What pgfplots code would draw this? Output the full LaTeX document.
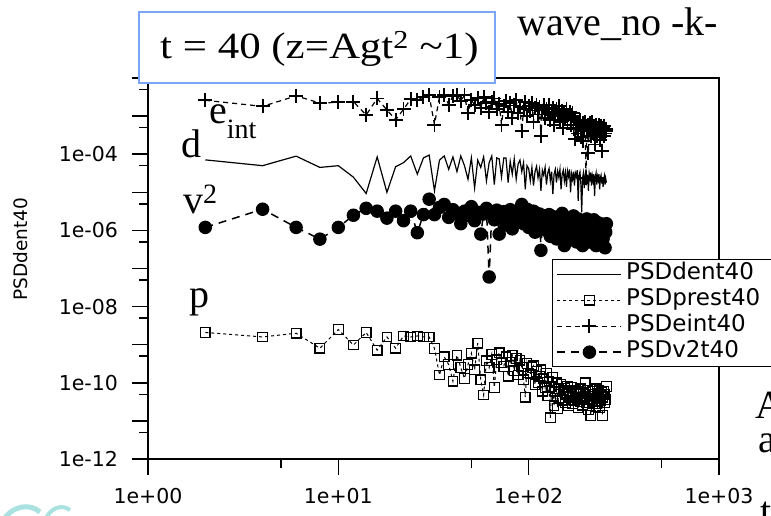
\documentclass[border=0pt]{standalone}
\usepackage{pgfplots}
\pgfplotsset{compat=1.18}
\usepackage{pgfplotstable}
\usepackage{fontspec}
\setmainfont{Liberation Serif}
\newfontfamily\dv{DejaVu Sans}
\definecolor{boxblue}{RGB}{125,165,245}
\definecolor{blob}{RGB}{170,225,225}

\pgfplotstableread{
x dent prest eint v2
2 7.1e-5 2.1e-9 2.6e-3 1.2e-6
4 5.0e-5 1.6e-9 1.8e-3 3.6e-6
6 8.9e-5 2.0e-9 3.4e-3 1.2e-6
8 4.5e-5 8.1e-10 2.2e-3 5.9e-7
10 5.0e-5 2.5e-9 2.3e-3 1.2e-6
12 2.5e-5 9.8e-10 2.4e-3 2.5e-6
14 9.3e-6 2.1e-9 1.07e-3 3.8e-6
16 8.5e-5 7.2e-10 2.9e-3 3.2e-6
18 1.0e-5 1.6e-9 1.45e-3 2.1e-6
20 4.7e-5 8.1e-10 8e-4 3.2e-6
22 6e-5 1.7e-9 1.5e-3 1.8e-6
24 9e-5 1.6e-9 2.8e-3 3.2e-6
26 3e-5 1.7e-9 2.6e-3 8.7e-7
28 8e-5 1.6e-9 3.2e-3 2.6e-6
30 9.5e-5 1.6e-9 3.5e-3 6.6e-6
32 1.1e-5 8e-10 6e-4 2.6e-6
34 7e-5 1.6e-10 3.2e-3 4e-6
36 9e-5 4.8e-10 3.6e-3 4.8e-6
38 4e-5 3e-10 2e-3 2.2e-6
40 8.5e-5 1.1e-10 3.4e-3 3.5e-6
42 3.5e-5 5.3e-10 3.6e-3 2.8e-6
44 9e-5 2.5e-10 2.5e-3 1.5e-6
46 5e-5 1.3e-10 3.5e-3 3.2e-6
48 2.2e-5 3e-10 1.2e-3 2.5e-6
50 8e-5 6e-10 2.6e-3 4.2e-6
52 1.3e-5 2.2e-10 2e-3 1.8e-6
54 7e-5 1.1e-9 3e-3 3e-6
56 4.5e-5 1.2e-10 1.6e-3 8e-7
58 8.5e-5 4.8e-11 3.2e-3 2.7e-6
60 2e-5 3.8e-10 2.2e-3 3.8e-6
62 6e-5 2.5e-10 1.3e-3 6e-8
64 9e-5 5.5e-10 2.4e-3 2.9e-6
66 1.6e-5 7.6e-11 2.9e-3 1.9e-6
68 8e-5 4e-10 1.5e-3 3.4e-6
70 7.5e-5 6.1e-10 2.1e-3 8e-7
72 2.5e-5 3.3e-10 6e-4 2.2e-6
74 8e-5 2.7e-10 1.8e-3 3.1e-6
76 8e-5 4.8e-10 2.5e-3 1.4e-6
78 1.8e-5 1.5e-10 1.3e-3 2.6e-6
80 6.5e-5 3.5e-10 2.2e-3 3.5e-6
82 3e-5 5.2e-10 9e-4 1.1e-6
84 7.5e-5 2.1e-10 1.9e-3 2.4e-6
86 2.2e-5 4.4e-10 2.6e-3 1.7e-6
88 5.5e-5 1.6e-10 1.2e-3 3e-6
90 7e-5 3.9e-10 1.7e-3 2e-6
92 3.5e-5 2.6e-10 4e-4 4.8e-6
94 6e-5 1.2e-10 1.5e-3 1.5e-6
96 1.2e-5 4.2e-11 2.3e-3 2.8e-6
98 5e-5 3.2e-10 1e-3 3.6e-6
100 4.2e-5 1.8e-10 1.8e-3 1.2e-6
102 2e-5 1.7e-10 1.4e-3 2.5e-6
104 4.5e-5 2.5e-10 2.2e-3 2e-6
106 1.5e-5 2.8e-10 7e-4 3.2e-6
108 3.5e-5 9e-11 1.6e-3 9e-7
110 4.8e-5 2e-10 2e-3 2.2e-6
112 2.4e-5 1e-10 1.1e-3 1.6e-6
114 4e-5 1.5e-10 1.7e-3 2.7e-6
116 1.1e-5 2.2e-10 3e-4 3e-7
118 3.8e-5 6e-11 1.4e-3 2e-6
120 2.8e-5 1.3e-10 1.9e-3 1.3e-6
122 4.5e-5 7.6e-11 9e-4 2.4e-6
124 1.6e-5 1.8e-10 1.5e-3 1e-6
126 3.2e-5 4.5e-11 1.2e-3 1.9e-6
128 4.2e-5 1.1e-10 2e-3 2.6e-6
130 2e-5 1.2e-11 8e-4 7e-7
132 3.5e-5 8e-11 1.3e-3 1.7e-6
134 9e-6 1.4e-10 1.6e-3 2.3e-6
136 3e-5 2.5e-11 6e-4 1.1e-6
138 4e-5 6e-11 1.2e-3 1.9e-6
140 1.8e-5 1e-10 1.5e-3 6e-7
142 3.6e-5 2.1e-11 1e-3 1.5e-6
144 2.5e-5 7e-11 1.8e-3 2.2e-6
146 4e-5 4e-11 7e-4 9e-7
148 1.2e-5 9e-11 1.1e-3 1.6e-6
150 3e-5 3.5e-11 1.4e-3 2.8e-6
152 3.8e-5 6.5e-11 5e-4 1.2e-6
154 2e-5 7.3e-11 1.2e-3 4e-7
156 3.3e-5 3e-11 9e-4 1.8e-6
158 1.4e-5 5e-11 1.5e-3 1.3e-6
160 3.6e-5 8e-11 8e-4 2.1e-6
162 2.6e-5 2.5e-11 1.1e-3 8e-7
164 4e-5 6e-11 1.3e-3 1.5e-6
166 1e-5 4.5e-11 6e-4 1.9e-6
168 3e-5 7.5e-11 1e-3 6e-7
170 2.2e-5 2.8e-11 1.2e-3 1.4e-6
172 3.5e-5 5.5e-11 4.5e-4 2.4e-6
174 1.5e-5 3.5e-11 9e-4 1e-6
176 3.2e-5 6.5e-11 2.5e-4 1.7e-6
178 2.6e-5 4e-11 5e-4 5e-7
180 3.8e-5 5e-11 7e-4 1.3e-6
182 6e-6 2.2e-11 3.5e-4 2e-6
184 2.8e-5 6e-11 6e-4 8e-7
186 3.4e-5 3.2e-11 8e-4 1.5e-6
188 1.7e-5 7e-11 2.8e-4 1.1e-6
190 3e-6 4.2e-11 5.5e-4 1.8e-6
192 2.4e-5 2.6e-11 6.5e-4 4e-7
194 3.2e-5 5.5e-11 2.2e-4 1.2e-6
196 1.3e-5 3.6e-11 4.5e-4 1.6e-6
198 2.8e-5 1e-10 7e-4 7e-7
200 3.6e-5 4.5e-11 2.4e-5 1.4e-6
202 2e-5 3e-11 4e-4 2e-6
204 2.9e-5 6.5e-11 6e-4 9e-7
206 1.1e-5 2e-11 1.1e-4 1.3e-6
208 3.1e-5 5e-11 4.5e-4 5e-7
210 2.3e-5 3.8e-11 6.5e-4 1.7e-6
212 3.3e-5 1.4e-11 3e-4 1e-6
214 1.5e-5 4.5e-11 5e-4 1.4e-6
216 2.7e-5 6e-11 7e-4 6e-7
218 2e-5 2.8e-11 3.5e-4 1.2e-6
220 3e-5 5e-11 5.5e-4 1.9e-6
222 8e-6 3.3e-11 1.8e-4 8e-7
224 2.5e-5 7e-11 4.5e-4 1.3e-6
226 3.2e-5 2.4e-11 6e-4 4e-7
228 1.6e-5 2.8e-11 3e-4 1.1e-6
230 2.6e-5 5.2e-11 5e-4 1.6e-6
232 2.1e-5 4e-11 4e-4 7e-7
234 3e-5 6.2e-11 6e-4 1.2e-6
236 1.2e-5 2.2e-11 2.4e-4 9e-7
238 2.4e-5 4.6e-11 4.5e-4 1.5e-6
240 2.8e-5 3.4e-11 5.5e-4 5e-7
242 1.7e-5 5.8e-11 1.2e-4 1.1e-6
244 2.5e-5 1.4e-11 4e-4 1.4e-6
246 1.4e-5 4.2e-11 5e-4 6e-7
248 2.2e-5 6e-11 3e-4 1e-6
250 2.7e-5 3e-11 5.5e-4 1.3e-6
252 1.6e-5 5e-11 3.5e-4 3.5e-7
254 2.3e-5 3.6e-11 4.5e-4 9e-7
256 1.8e-5 8e-11 4e-4 1.5e-6
}\datatable

\begin{document}
\begin{tikzpicture}
\useasboundingbox (0pt,0pt) rectangle (771pt,-515pt);
% faint fragment of a neighbouring picture, bottom-left corner
\draw[blob, line width=5pt] (2pt,-522pt) .. controls (12pt,-505pt) and (30pt,-503pt) .. (40pt,-512pt);
\draw[blob, line width=4pt] (44pt,-522pt) .. controls (50pt,-507pt) and (62pt,-504pt) .. (70pt,-510pt);
\begin{axis}[
  at={(148pt,-459pt)}, anchor=south west,
  scale only axis, width=571pt, height=381pt,
  xmode=log, ymode=log,
  xmin=1, xmax=1000, ymin=1e-12, ymax=1e-2,
  axis line style={line width=1.8pt},
  xtick={1,10,100,1000},
  xticklabels={1e+00,1e+01,1e+02,1e+03},
  minor xtick={5,50,500},
  ytick={1e-12,1e-11,1e-10,1e-9,1e-8,1e-7,1e-6,1e-5,1e-4,1e-3,1e-2},
  yticklabels={1e-12,,1e-10,,1e-08,,1e-06,,1e-04,,},
  minor ytick={5e-12,5e-11,5e-10,5e-9,5e-8,5e-7,5e-6,5e-5,5e-4,5e-3},
  tick align=outside, xtick pos=bottom, ytick pos=left,
  major tick length=16pt, minor tick length=9pt,
  every tick/.style={black, line width=1.5pt},
  xticklabel style={font=\dv\fontsize{20.5}{24}\selectfont, anchor=north, inner sep=0pt, yshift=-13pt},
  yticklabel style={font=\dv\fontsize{20.5}{24}\selectfont, anchor=east, inner sep=0pt, xshift=-14pt},
  legend image code/.code={\draw[mark repeat=2,mark phase=2,#1] plot coordinates {(0pt,0pt) (32pt,0pt) (64pt,0pt)};},
  legend style={at={(0.7075,0.525)}, anchor=north west, draw=black, line width=1.4pt,
    font=\dv\fontsize{23}{27}\selectfont, inner xsep=4pt, inner ysep=4pt, row sep=5pt,
    nodes={inner sep=0pt, text height=16pt, text depth=5pt},
    /tikz/every even column/.append style={column sep=9pt}},
  legend cell align=left,
]
\addplot[black, line width=1.2pt] table[x=x,y=dent]{\datatable};
\addlegendentry{\makebox[160pt][l]{\hspace{4pt}PSDdent40}}
\addplot[black, line width=1pt, dash pattern=on 3pt off 3pt, mark=square, mark size=4.8pt, mark options={solid, line width=1.2pt}] table[x=x,y=prest]{\datatable};
\addlegendentry{\makebox[160pt][l]{\hspace{4pt}PSDprest40}}
\addplot[black, line width=1.2pt, dash pattern=on 5pt off 4pt, mark=+, mark size=7pt, mark options={solid, line width=1.9pt}] table[x=x,y=eint]{\datatable};
\addlegendentry{\makebox[160pt][l]{\hspace{4pt}PSDeint40}}
\addplot[black, line width=1.5pt, dash pattern=on 8pt off 6pt, mark=*, mark size=6pt, mark options={solid, fill=black}] table[x=x,y=v2]{\datatable};
\addlegendentry{\makebox[160pt][l]{\hspace{4pt}PSDv2t40}}
\end{axis}
% y label
\node[rotate=90, font=\dv\fontsize{18.5}{22}\selectfont] at (21pt,-249pt) {PSDdent40};
% title box
\node[draw=boxblue, line width=1.6pt, fill=white, minimum width=356pt, minimum height=71pt, anchor=north west, inner sep=0pt] at (138pt,-11pt) {};
\node[anchor=base west, inner sep=0pt, font=\fontsize{37}{40}\selectfont] at (160pt,-58pt) {\scalebox{1.16}[1]{t = 40 (z=Agt\textsuperscript{2} \textasciitilde1)}};
\node[anchor=base west, inner sep=0pt, font=\fontsize{40}{44}\selectfont] at (517pt,-35pt) {wave\_no -k-};
% in-plot labels
\node[anchor=base west, inner sep=0pt, font=\fontsize{40}{44}\selectfont] at (209pt,-123pt) {e\raisebox{-15pt}{\fontsize{28}{30}\selectfont int}};
\node[anchor=base west, inner sep=0pt, font=\fontsize{40}{44}\selectfont] at (181pt,-157pt) {d};
\node[anchor=base west, inner sep=0pt, font=\fontsize{40}{44}\selectfont] at (183pt,-213pt) {v\textsuperscript{2}};
\node[anchor=base west, inner sep=0pt, font=\fontsize{40}{44}\selectfont] at (189pt,-307pt) {p};
% cut-off text at right edge
\node[anchor=base west, inner sep=0pt, font=\fontsize{40}{44}\selectfont] at (755pt,-418pt) {A};
\node[anchor=base west, inner sep=0pt, font=\fontsize{40}{44}\selectfont] at (758pt,-452pt) {a};
\node[anchor=base west, inner sep=0pt, font=\fontsize{40}{44}\selectfont] at (760pt,-524pt) {t};
\end{tikzpicture}
\end{document}
